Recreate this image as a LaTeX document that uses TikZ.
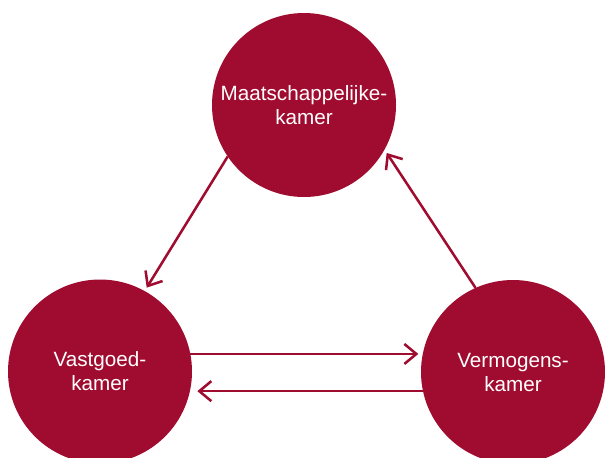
\documentclass[tikz,border=0pt]{standalone}
\usepackage{fontspec}
\setmainfont{Liberation Sans}
\usetikzlibrary{arrows.meta}
\definecolor{kamerred}{RGB}{160,12,47}
\begin{document}
\begin{tikzpicture}[x=0.75pt,y=-0.75pt,
  kamer/.style={circle,fill=kamerred,draw=none,minimum size=138pt,inner sep=0pt,outer sep=0pt,
    text=white,align=center,font=\fontsize{15.5pt}{18pt}\selectfont},
  flow/.style={draw=kamerred,line width=1.9pt,-{Straight Barb[length=9pt,width=15pt,line width=1.9pt]}}]
\useasboundingbox (0,0) rectangle (605,457);
\node[kamer] (top) at (304,105) {Maatschappelijke-\\kamer};
\node[kamer] (left) at (100,371.5) {Vastgoed-\\kamer};
\node[kamer] (right) at (513,372) {Vermogens-\\kamer};
\draw[flow,shorten >=3pt] (top.214) -- (left.61);
\draw[flow,shorten >=3pt] (right.114) -- (top.331);
\draw[flow,shorten >=2pt] (left.11) -- (left.11 -| right.west);
\draw[flow,shorten >=4pt] (right.192) -- (right.192 -| left.east);
\end{tikzpicture}
\end{document}
